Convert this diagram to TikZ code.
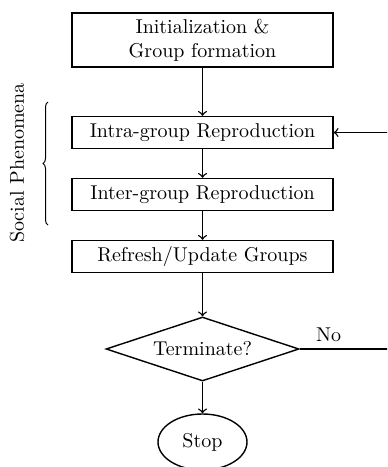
\documentclass[tikz,border=0pt]{standalone}
\usetikzlibrary{arrows,shapes.geometric,decorations.pathreplacing}

\begin{document}
\begin{tikzpicture}[x=0.5pt,y=-0.5pt,
            procbox/.style={draw,line width=0.7pt,minimum width=130.5pt,minimum height=16pt,inner sep=0pt},
            decision/.style={draw,diamond,aspect=3,line width=0.7pt,minimum width=96.5pt,minimum height=32pt,inner sep=0pt},
            stopnode/.style={draw,ellipse,line width=0.7pt,minimum width=44.5pt,minimum height=28pt,inner sep=0pt},
            flow/.style={->,line width=0.7pt}]
            \useasboundingbox (0, 0) rectangle (387, 467);
            \clip (0, 0) rectangle (387, 467);

            \node[procbox,minimum height=27pt,align=center] (init) at (202.5, 40) {Initialization \&\\Group formation};
            \node[procbox] (intra) at (202.5, 132.5) {Intra-group Reproduction};
            \node[procbox] (inter) at (202.5, 194.5) {Inter-group Reproduction};
            \node[procbox] (refresh) at (202.5, 256.5) {Refresh/Update Groups};
            \node[decision] (term) at (202.5, 349) {Terminate?};
            \node[stopnode] (stop) at (202.5, 442) {Stop};
            \coordinate (back) at (390, 349);

            \draw[flow] (init) -- (intra);
            \draw[flow] (intra) -- (inter);
            \draw[flow] (inter) -- (refresh);
            \draw[flow] (refresh) -- (term);
            \draw[flow] (term) -- (stop);
            %loop back
            \draw[flow] (term.east) -- node[above,pos=0.32] {No} (back) |- (intra.east);

            %social phenomena brace
            \node[rotate=90] (social) at (17, 163) {Social Phenomena};
            \draw[line width=0.5pt,decorate,decoration={brace,amplitude=2.5pt}] (48, 225) -- (48, 102);

        \end{tikzpicture}
\end{document}
